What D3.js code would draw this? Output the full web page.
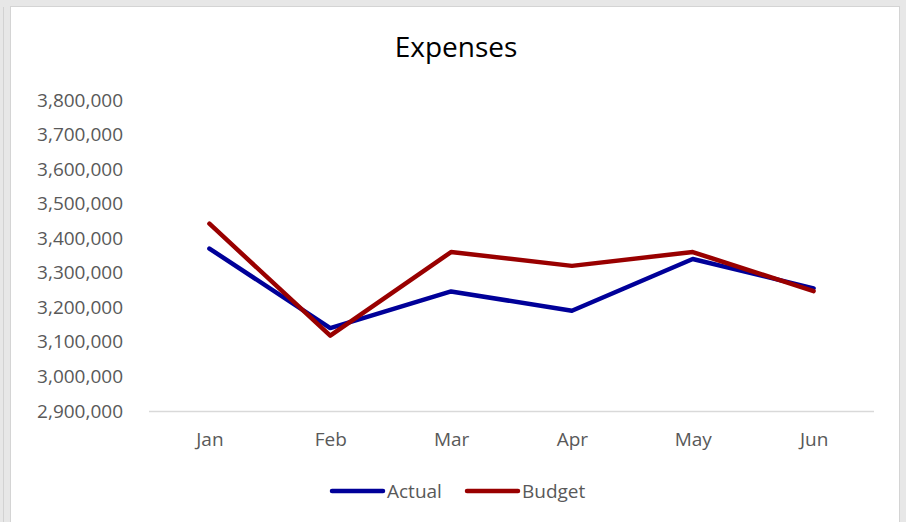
<!DOCTYPE html>
<html>
<head>
<meta charset="utf-8">
<script src="https://cdn.jsdelivr.net/npm/d3@7"></script>
<style>
  html, body { margin: 0; padding: 0; background: #e7e7e7; }
  svg { display: block; }
  text { font-family: "Open Sans", "Noto Sans", sans-serif; }
</style>
</head>
<body>
<svg id="chart" width="906" height="522"></svg>
<script>
// Monthly expenses: actual spend against budget
const months = ["Jan", "Feb", "Mar", "Apr", "May", "Jun"];
const actual = [3370000, 3140000, 3246000, 3190000, 3340000, 3255000];
const budget = [3442000, 3118000, 3360000, 3320000, 3360000, 3247000];
const yTicks = [2900000, 3000000, 3100000, 3200000, 3300000, 3400000, 3500000, 3600000, 3700000, 3800000];

const seriesList = [
  { name: "Actual", values: actual, color: "#000099" },
  { name: "Budget", values: budget, color: "#990000" }
];

const svg = d3.select("#chart");

// Window frame around the chart
svg.append("rect").attr("x", 0).attr("y", 0).attr("width", 906).attr("height", 522).attr("fill", "#e7e7e7");
svg.append("line").attr("x1", 3.5).attr("x2", 3.5).attr("y1", 7).attr("y2", 522)
  .attr("stroke", "#d2d2d2").attr("stroke-width", 1);
svg.append("rect").attr("x", 10.5).attr("y", 6.5).attr("width", 889).attr("height", 520)
  .attr("fill", "#ffffff").attr("stroke", "#d4d4d4").attr("stroke-width", 1);

const x = d3.scalePoint().domain(months).range([149, 874]).padding(0.5);
const y = d3.scaleLinear().domain([2900000, 3800000]).range([411, 100]);

// Title
svg.append("text")
  .attr("x", 456).attr("y", 57)
  .attr("text-anchor", "middle")
  .attr("font-size", 28)
  .attr("fill", "#000000")
  .text("Expenses");

// Value axis: labels only
const fmt = d3.format(",");
const yAxis = svg.append("g").attr("transform", "translate(123,0)")
  .call(d3.axisLeft(y).tickValues(yTicks).tickFormat(fmt).tickSize(0).tickPadding(0));
yAxis.select(".domain").remove();
yAxis.selectAll("text")
  .attr("font-size", 19)
  .attr("font-family", "\"Open Sans\", \"Noto Sans\", sans-serif")
  .attr("fill", "#595959");

// Category axis: baseline plus month labels
const xAxis = svg.append("g").attr("transform", "translate(0,411)")
  .call(d3.axisBottom(x).tickSize(0).tickPadding(22));
xAxis.select(".domain")
  .attr("d", "M149,0.5H874")
  .attr("stroke", "#d9d9d9").attr("stroke-width", 1.5);
xAxis.selectAll("text")
  .attr("font-size", 19)
  .attr("font-family", "\"Open Sans\", \"Noto Sans\", sans-serif")
  .attr("fill", "#595959");

// Lines
const line = d3.line()
  .x((d, i) => x(months[i]))
  .y(d => y(d));

svg.append("g").selectAll("path")
  .data(seriesList)
  .join("path")
  .attr("d", s => line(s.values))
  .attr("fill", "none")
  .attr("stroke", s => s.color)
  .attr("stroke-width", 4.5)
  .attr("stroke-linecap", "round")
  .attr("stroke-linejoin", "round");

// Legend
const legendPos = [332, 467];
const legend = svg.append("g").selectAll("g")
  .data(seriesList)
  .join("g")
  .attr("transform", (s, i) => `translate(${legendPos[i]},491)`);
legend.append("line")
  .attr("x1", 0).attr("x2", 51).attr("y1", 0).attr("y2", 0)
  .attr("stroke", s => s.color)
  .attr("stroke-width", 4.5)
  .attr("stroke-linecap", "round");
legend.append("text")
  .attr("x", 55).attr("y", 0).attr("dy", "0.35em")
  .attr("font-size", 19)
  .attr("fill", "#595959")
  .text(s => s.name);
</script>
</body>
</html>
